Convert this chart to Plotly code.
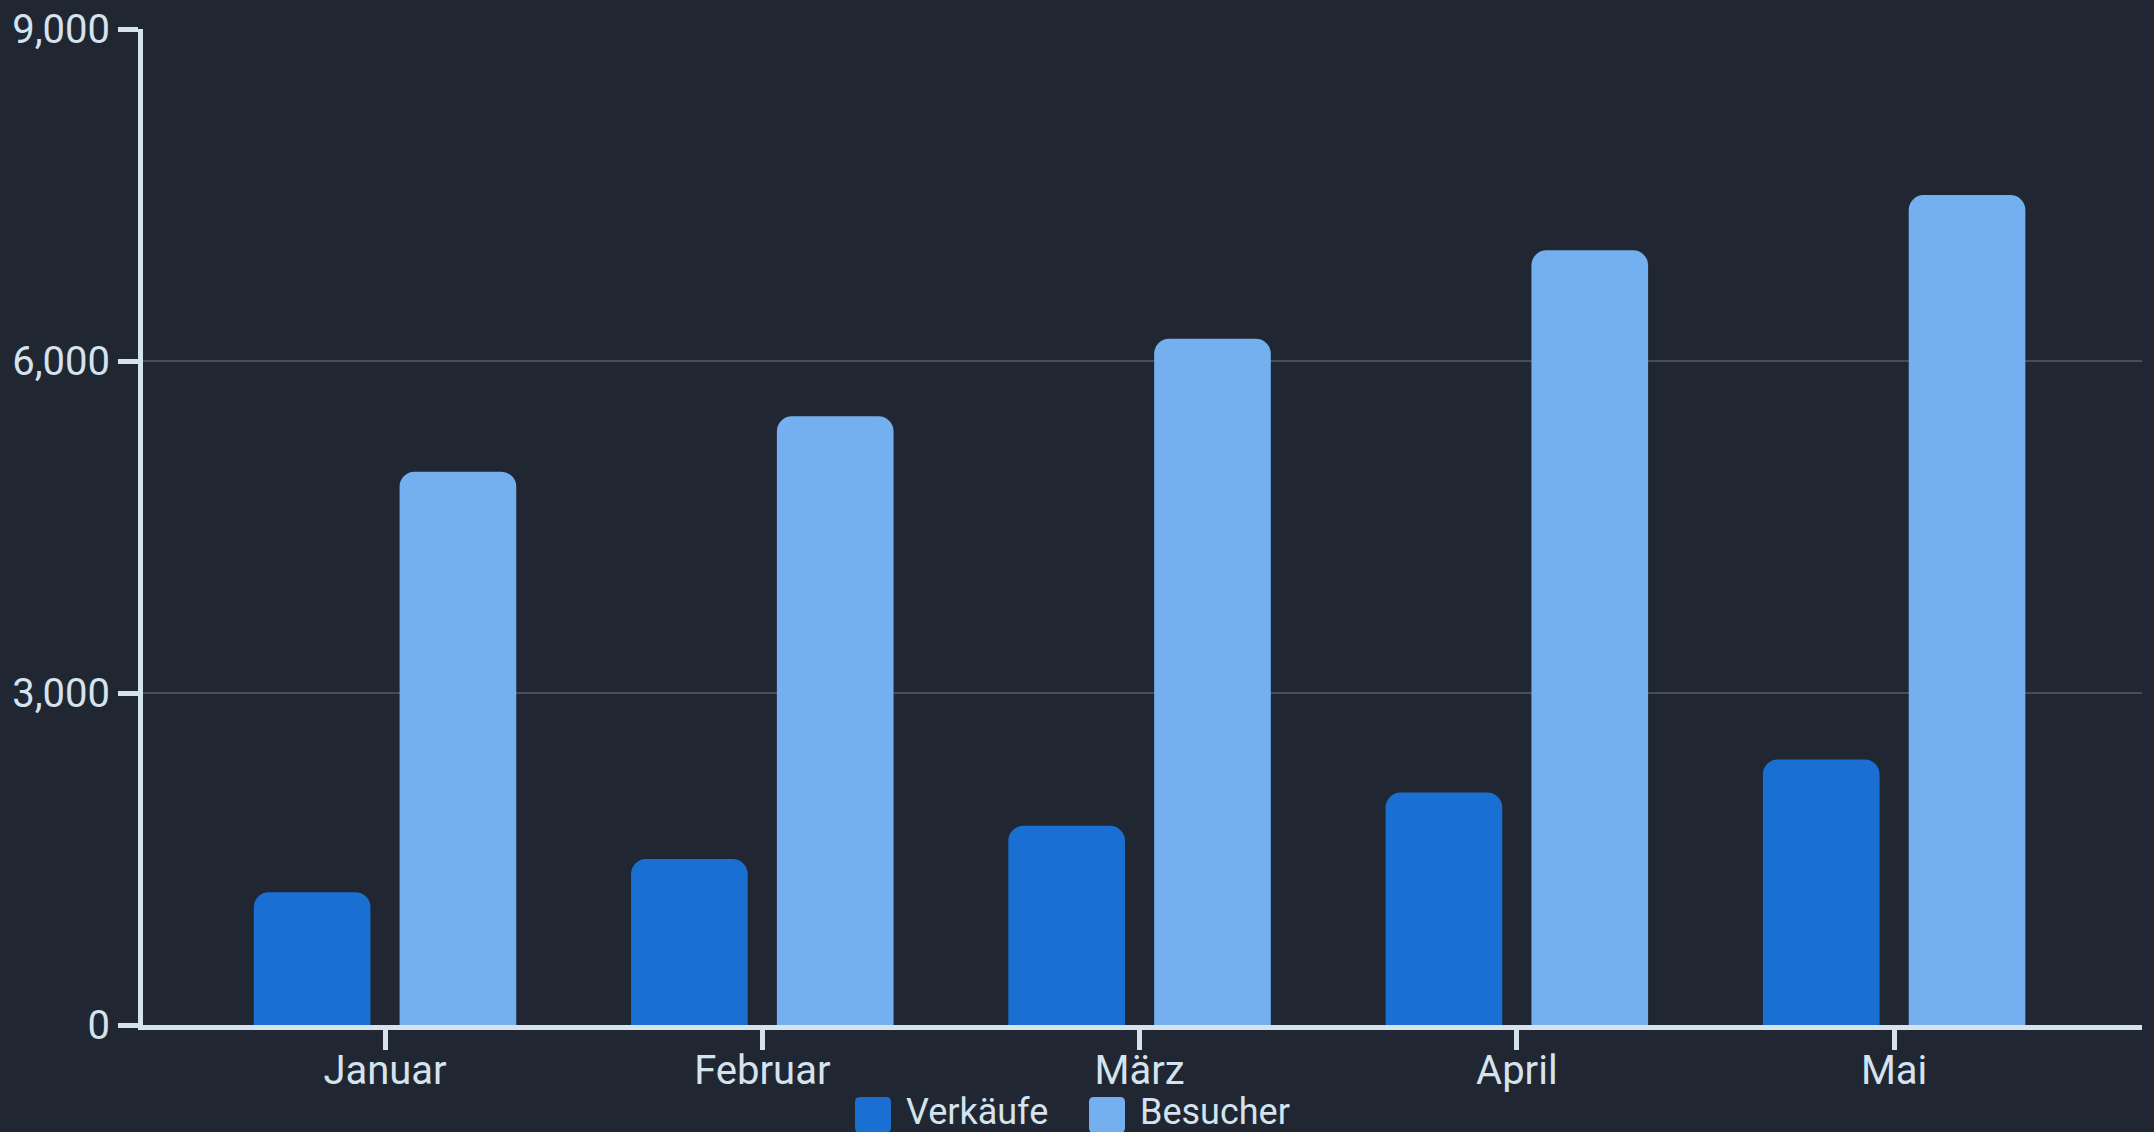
import plotly.graph_objects as go

# Monthly figures
months = ["Januar", "Februar", "März", "April", "Mai"]
verkaeufe = [1200, 1500, 1800, 2100, 2400]
besucher = [5000, 5500, 6200, 7000, 7500]

y_ticks = [0, 3000, 6000, 9000]
y_tick_labels = ["0", "3,000", "6,000", "9,000"]

series_names = ["Verkäufe", "Besucher"]
series_colors = ["#1970d2", "#74b0ef"]

BG = "#202733"
AXIS = "#d5e3ef"
GRID = "#474e5a"
FONT = "Roboto"

W, H = 2154, 1132
ML, MR, MT, MB = 143, 12, 29, 107

fig = go.Figure()
for name, vals, color in zip(series_names, [verkaeufe, besucher], series_colors):
    fig.add_trace(go.Bar(
        x=months, y=vals, name=name,
        marker=dict(color=color, line=dict(width=0)),
        showlegend=False,
    ))

fig.update_layout(
    width=W, height=H,
    paper_bgcolor=BG, plot_bgcolor=BG,
    margin=dict(l=ML, r=MR, t=MT, b=MB),
    barmode="group", bargap=0.227, bargroupgap=0.2,
    barcornerradius=15,
    font=dict(family=FONT, color=AXIS, size=40),
)

fig.update_xaxes(
    range=[-0.6415, 4.657], automargin=False,
    showline=True, linecolor=AXIS, linewidth=5,
    ticks="outside", ticklen=20, tickwidth=5, tickcolor=AXIS,
    tickfont=dict(size=40, color=AXIS), ticklabelstandoff=-14,
    showgrid=False, zeroline=False,
)
fig.update_yaxes(
    range=[0, 9000], automargin=False,
    tickvals=y_ticks, ticktext=y_tick_labels,
    showline=True, linecolor=AXIS, linewidth=5,
    ticks="outside", ticklen=20, tickwidth=5, tickcolor=AXIS,
    tickfont=dict(size=40, color=AXIS),
    showgrid=True, gridcolor=GRID, gridwidth=2,
    zeroline=False,
)

# Legend row below the category labels (rounded swatches + labels)
plot_w = W - ML - MR
plot_h = H - MT - MB
bottom_px = H - MB


def paper_x(px):
    return (px - ML) / plot_w


def paper_y(py):
    return (bottom_px - py) / plot_h


def rounded_square(size, r):
    h = size / 2
    return (
        f"M{-h + r},{-h} H{h - r} Q{h},{-h} {h},{-h + r} "
        f"V{h - r} Q{h},{h} {h - r},{h} H{-h + r} Q{-h},{h} {-h},{h - r} "
        f"V{-h + r} Q{-h},{-h} {-h + r},{-h} Z"
    )


swatch = 36
legend_items = [(873, 904), (1107, 1138)]
for (sq_cx, txt_x), name, color in zip(legend_items, series_names, series_colors):
    fig.add_shape(
        type="path", xref="paper", yref="paper",
        xsizemode="pixel", ysizemode="pixel",
        xanchor=paper_x(sq_cx), yanchor=paper_y(1115),
        path=rounded_square(swatch, 5),
        fillcolor=color, line=dict(width=0),
    )
    fig.add_annotation(
        x=paper_x(txt_x), y=paper_y(1112),
        xref="paper", yref="paper",
        xanchor="left", yanchor="middle",
        text=name, showarrow=False,
        font=dict(family=FONT, size=36, color=AXIS),
    )

fig.write_html("out.html")
